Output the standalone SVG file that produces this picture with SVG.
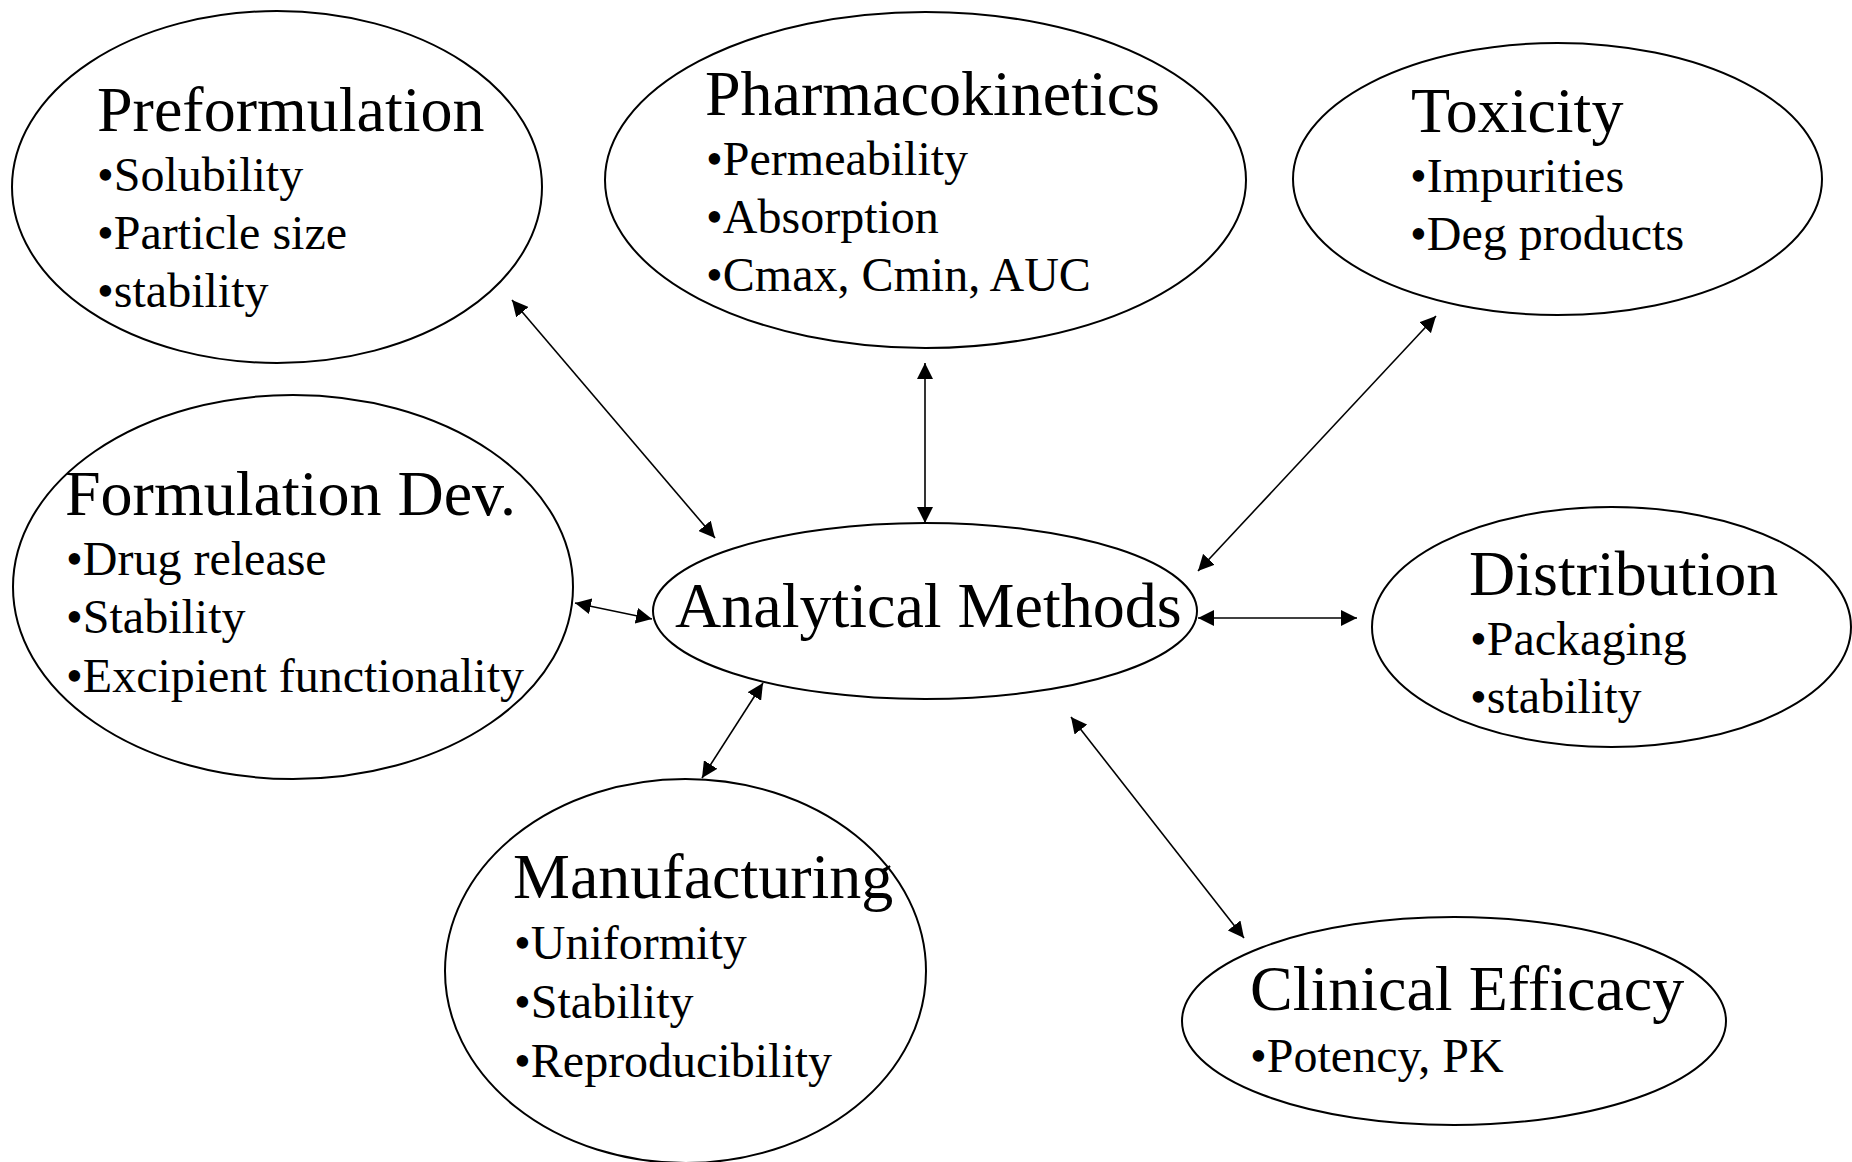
<svg xmlns="http://www.w3.org/2000/svg" width="1852" height="1162" viewBox="0 0 1852 1162">
  <style>
    .node ellipse { fill: none; stroke: #000; stroke-width: 2; }
    .title { font-family: "Liberation Serif", "Times New Roman", serif; font-size: 64px; fill: #000; }
    .item { font-family: "Liberation Serif", "Times New Roman", serif; font-size: 48px; fill: #000; }
    .conn line { stroke: #000; stroke-width: 1.6; marker-start: url(#arr); marker-end: url(#arr); }
  </style>
  <defs>
    <marker id="arr" viewBox="0 0 16 16" refX="16" refY="8" markerWidth="16" markerHeight="16" markerUnits="userSpaceOnUse" orient="auto-start-reverse">
      <path d="M0,0 L16,8 L0,16 z" fill="#000"/>
    </marker>
  </defs>
  <rect width="1852" height="1162" fill="#fff"/>

  <g id="connectors" class="conn">
    <line x1="512" y1="300" x2="715" y2="538"/>
    <line x1="925" y1="363" x2="925" y2="523"/>
    <line x1="1436" y1="316" x2="1198" y2="571"/>
    <line x1="575" y1="603" x2="652" y2="619"/>
    <line x1="1198" y1="618" x2="1357" y2="618"/>
    <line x1="1071" y1="717" x2="1244" y2="938"/>
    <line x1="763" y1="683" x2="702" y2="778"/>
  </g>

  <g id="preformulation" class="node">
    <ellipse cx="277" cy="187" rx="265" ry="176"/>
    <text class="title" x="97" y="131">Preformulation</text>
    <text class="item" x="97" y="191">•Solubility</text>
    <text class="item" x="97" y="249">•Particle size</text>
    <text class="item" x="97" y="307">•stability</text>
  </g>

  <g id="pharmacokinetics" class="node">
    <ellipse cx="925.5" cy="180" rx="320.5" ry="168"/>
    <text class="title" x="705" y="115">Pharmacokinetics</text>
    <text class="item" x="706" y="175">•Permeability</text>
    <text class="item" x="706" y="233">•Absorption</text>
    <text class="item" x="706" y="291">•Cmax, Cmin, AUC</text>
  </g>

  <g id="toxicity" class="node">
    <ellipse cx="1557.5" cy="179" rx="264.5" ry="136"/>
    <text class="title" x="1411" y="132">Toxicity</text>
    <text class="item" x="1410" y="192">•Impurities</text>
    <text class="item" x="1410" y="250">•Deg products</text>
  </g>

  <g id="formulation-dev" class="node">
    <ellipse cx="293" cy="587" rx="280" ry="192"/>
    <text class="title" x="65" y="515">Formulation Dev.</text>
    <text class="item" x="66" y="575">•Drug release</text>
    <text class="item" x="66" y="633">•Stability</text>
    <text class="item" x="66" y="692">•Excipient functionality</text>
  </g>

  <g id="analytical-methods" class="node">
    <ellipse cx="925" cy="611" rx="272" ry="88"/>
    <text class="title" x="675" y="627">Analytical Methods</text>
  </g>

  <g id="distribution" class="node">
    <ellipse cx="1611.5" cy="627" rx="239.5" ry="120"/>
    <text class="title" x="1469" y="595">Distribution</text>
    <text class="item" x="1470" y="655">•Packaging</text>
    <text class="item" x="1470" y="713">•stability</text>
  </g>

  <g id="manufacturing" class="node">
    <ellipse cx="685.5" cy="971" rx="240.5" ry="192"/>
    <text class="title" x="513" y="898">Manufacturing</text>
    <text class="item" x="514" y="959">•Uniformity</text>
    <text class="item" x="514" y="1018">•Stability</text>
    <text class="item" x="514" y="1077">•Reproducibility</text>
  </g>

  <g id="clinical-efficacy" class="node">
    <ellipse cx="1454" cy="1021" rx="272" ry="104"/>
    <text class="title" x="1250" y="1010">Clinical Efficacy</text>
    <text class="item" x="1250" y="1072">•Potency, PK</text>
  </g>
</svg>
